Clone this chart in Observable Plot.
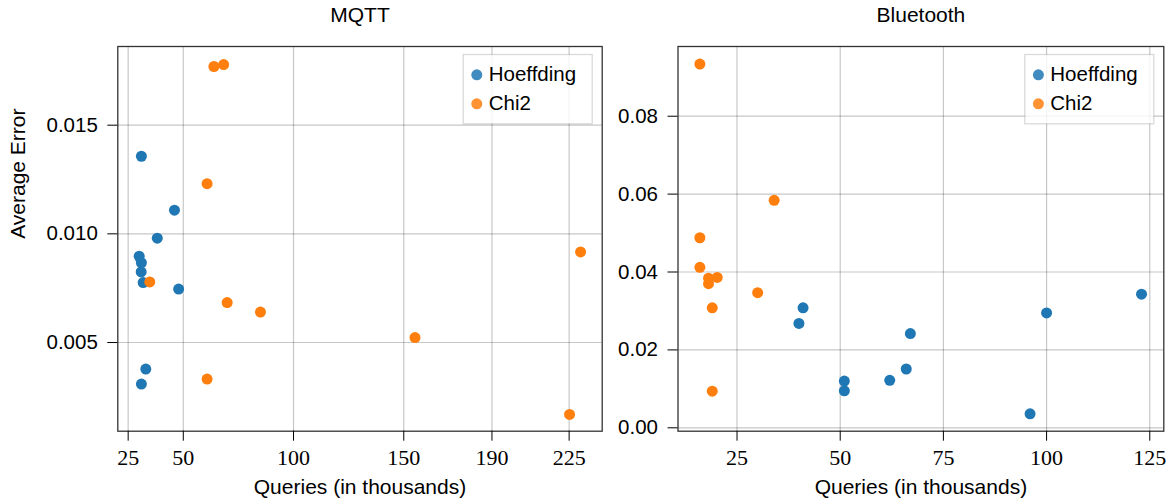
<!DOCTYPE html>
<html><head><meta charset="utf-8">
<script src="https://cdn.jsdelivr.net/npm/d3@7"></script>
<script src="https://cdn.jsdelivr.net/npm/@observablehq/plot@0.6"></script>
<style>
html,body{margin:0;padding:0;background:#fff;}
#wrap{display:flex;width:1173px;height:502px;}
svg{display:block}
</style></head><body><div id="wrap"></div>
<script>
// ---- data ----
const series = ["Hoeffding", "Chi2"];
const seriesColors = ["#1f77b4", "#ff7f0e"];

const mqttHoeffdingQueries = [31.0, 46.0, 38.2, 30.0, 31.0, 30.9, 31.8, 47.9, 33.0, 31.0];
const mqttHoeffdingError   = [0.01357, 0.01109, 0.00980, 0.00897, 0.00867, 0.00825, 0.00776, 0.00746, 0.00378, 0.00309];
const mqttChi2Queries = [63.9, 68.3, 60.8, 34.8, 69.9, 85.0, 155.1, 230.2, 225.2, 60.8];
const mqttChi2Error   = [0.01770, 0.01779, 0.01231, 0.00779, 0.00684, 0.00640, 0.00523, 0.00917, 0.00169, 0.00332];

const btHoeffdingQueries = [41, 40, 51, 51, 62, 66, 67, 96, 100, 123];
const btHoeffdingError   = [0.0308, 0.0268, 0.0120, 0.0095, 0.0122, 0.0151, 0.0242, 0.0036, 0.0295, 0.0343];
const btChi2Queries = [16.0, 34.0, 16.0, 16.0, 18.1, 20.2, 18.1, 30.0, 19.0, 19.0];
const btChi2Error   = [0.0934, 0.0584, 0.0488, 0.0412, 0.0384, 0.0386, 0.0370, 0.0347, 0.0308, 0.0094];

const mqttXTicks = [25, 50, 100, 150, 190, 225];
const mqttYTicks = [0.005, 0.010, 0.015];
const btXTicks = [25, 50, 75, 100, 125];
const btYTicks = [0.00, 0.02, 0.04, 0.06, 0.08];

const panelTitles = ["MQTT", "Bluetooth"];
const xLabel = "Queries (in thousands)";
const yLabel = "Average Error";

function rows(q1, e1, q2, e2) {
  return [
    ...q1.map((q, i) => ({series: series[0], queries: q, error: e1[i]})),
    ...q2.map((q, i) => ({series: series[1], queries: q, error: e2[i]}))
  ];
}
const mqttData = rows(mqttHoeffdingQueries, mqttHoeffdingError, mqttChi2Queries, mqttChi2Error);
const btData = rows(btHoeffdingQueries, btHoeffdingError, btChi2Queries, btChi2Error);

const SANS = "Liberation Sans, Arial, Helvetica, sans-serif";
const SERIF = "Liberation Serif, Times New Roman, serif";

function panel({title, data, width, marginLeft, marginRight, xDomain, xTicks, yDomain, yTicks, yFormat, showYLabel}) {
  const H = 502, mt = 46, mb = 71.3;
  const plotW = width - marginLeft - marginRight;
  const plotH = H - mt - mb;
  const legend = series.map((s, i) => [
    Plot.dot([s], {frameAnchor: "top-right", dx: -125.4, dy: 28.3 + 29 * i, r: 5.5, fill: seriesColors[i], fillOpacity: 0.85}),
    Plot.text([s], {text: d => d, frameAnchor: "top-right", dx: -113.5, dy: 28.3 + 29 * i, textAnchor: "start", lineAnchor: "middle", fontSize: 20.5, fontFamily: SANS})
  ]);
  const marks = [
    Plot.gridX(xTicks, {stroke: "#000", strokeOpacity: 0.22, strokeWidth: 1.2}),
    Plot.gridY(yTicks, {stroke: "#000", strokeOpacity: 0.22, strokeWidth: 1.2}),
    Plot.frame({stroke: "#333", strokeWidth: 1.3}),
    Plot.axisX(xTicks, {tickSize: 10, tickPadding: 8, fontFamily: SERIF, fontSize: 22, label: null, tickFormat: d => String(d)}),
    Plot.axisY(yTicks, {tickSize: 10, tickPadding: 10, fontFamily: SANS, fontSize: 20.5, label: null, tickFormat: d3.format(yFormat)}),
    Plot.dot(data, {x: "queries", y: "error", fill: "series", r: 5.5}),
    Plot.frame({fill: "white", fillOpacity: 0.8, stroke: "#000", strokeOpacity: 0.15, strokeWidth: 1.3,
      insetLeft: plotW - 139, insetRight: 10, insetTop: 8, insetBottom: plotH - 77.3}),
    ...legend.flat(),
    Plot.text([title], {text: d => d, frameAnchor: "top", dy: -24.7, lineAnchor: "bottom", fontSize: 21, fontFamily: SANS}),
    Plot.text([xLabel], {text: d => d, frameAnchor: "bottom", dy: 62.6, lineAnchor: "bottom", fontSize: 21, fontFamily: SANS}),
    showYLabel ? Plot.text([yLabel], {text: d => d, frameAnchor: "left", dx: 24 - marginLeft, rotate: -90, lineAnchor: "bottom", fontSize: 21, fontFamily: SANS}) : null
  ].filter(Boolean);
  return Plot.plot({
    width, height: H, marginLeft, marginRight, marginTop: mt, marginBottom: mb,
    style: {fontFamily: SANS, fontSize: "20.5px", background: "white", color: "#000", overflow: "visible"},
    x: {domain: xDomain, ticks: xTicks},
    y: {domain: yDomain, ticks: yTicks},
    color: {domain: series, range: seriesColors},
    marks
  });
}

const wrap = document.getElementById("wrap");
wrap.append(panel({
  title: panelTitles[0], data: mqttData, width: 640, marginLeft: 117.3, marginRight: 38.3,
  xDomain: [20.3, 240], xTicks: mqttXTicks, yDomain: [0.00092, 0.01862], yTicks: mqttYTicks, yFormat: ".3f", showYLabel: true
}));
wrap.append(panel({
  title: panelTitles[1], data: btData, width: 533, marginLeft: 37.5, marginRight: 9.7,
  xDomain: [10.7, 128.4], xTicks: btXTicks, yDomain: [-0.00087, 0.0979], yTicks: btYTicks, yFormat: ".2f", showYLabel: false
}));
</script></body></html>
